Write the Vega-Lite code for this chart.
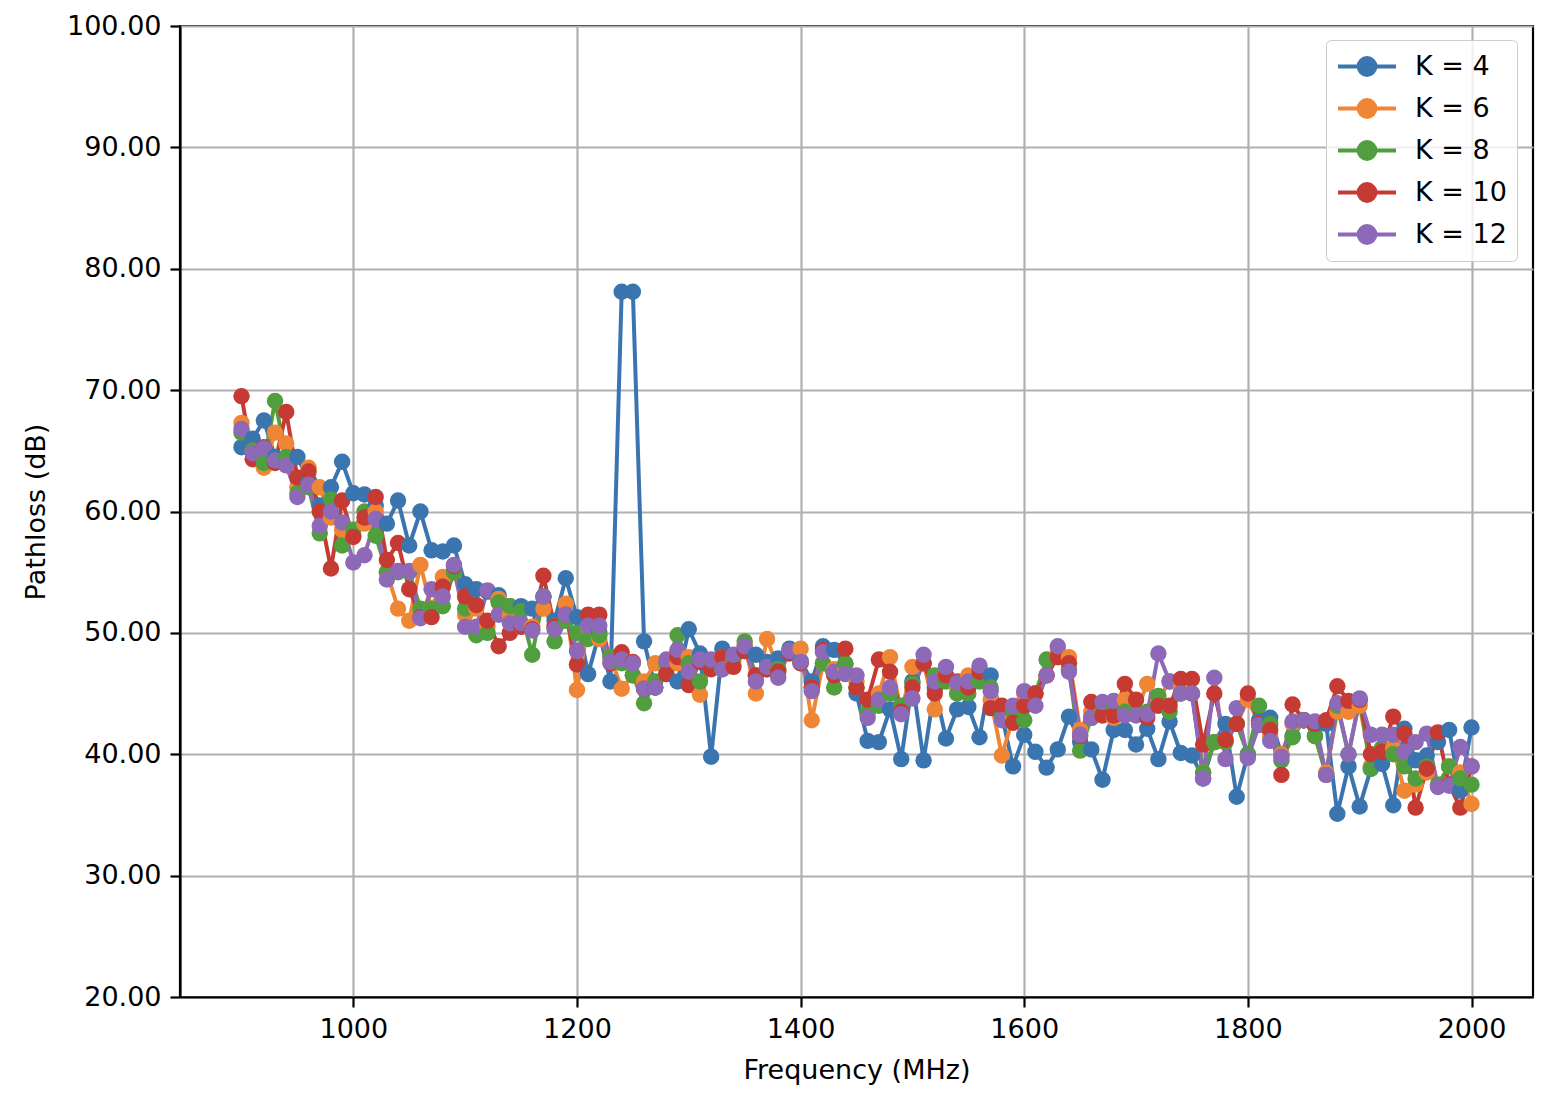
{
  "$schema": "https://vega.github.io/schema/vega-lite/v6.json",
  "width": 1353,
  "height": 971,
  "autosize": {"type": "none"},
  "padding": {"left": 180, "top": 26, "right": 31, "bottom": 109},
  "background": "white",
  "config": {
    "font": "DejaVu Sans",
    "view": {"stroke": "black", "strokeWidth": 2.2},
    "axis": {
      "labelFont": "DejaVu Sans", "titleFont": "DejaVu Sans",
      "labelFontSize": 27, "titleFontSize": 27, "titleFontWeight": "normal",
      "labelColor": "black", "titleColor": "black",
      "domainColor": "black", "domainWidth": 2.2,
      "tickColor": "black", "tickWidth": 2.2, "tickSize": 10,
      "gridColor": "#b0b0b0", "gridWidth": 2.2, "gridOpacity": 1,
      "labelPadding": 9
    }
  },
  "data": {"values": [
    {"f":900,"K = 4":65.3,"K = 6":67.3,"K = 8":66.5,"K = 10":69.5,"K = 12":66.8},
    {"f":910,"K = 4":66.0,"K = 6":65.0,"K = 8":65.0,"K = 10":64.3,"K = 12":64.8},
    {"f":920,"K = 4":67.5,"K = 6":63.6,"K = 8":64.0,"K = 10":65.3,"K = 12":65.2},
    {"f":930,"K = 4":64.5,"K = 6":66.5,"K = 8":69.1,"K = 10":64.0,"K = 12":64.2},
    {"f":940,"K = 4":64.0,"K = 6":65.6,"K = 8":64.5,"K = 10":68.2,"K = 12":63.8},
    {"f":950,"K = 4":64.5,"K = 6":62.0,"K = 8":61.5,"K = 10":62.8,"K = 12":61.2},
    {"f":960,"K = 4":62.5,"K = 6":63.6,"K = 8":62.0,"K = 10":63.3,"K = 12":62.2},
    {"f":970,"K = 4":60.5,"K = 6":62.0,"K = 8":58.2,"K = 10":60.0,"K = 12":58.8},
    {"f":980,"K = 4":62.0,"K = 6":59.5,"K = 8":61.0,"K = 10":55.3,"K = 12":60.0},
    {"f":990,"K = 4":64.1,"K = 6":58.5,"K = 8":57.2,"K = 10":60.9,"K = 12":59.1},
    {"f":1000,"K = 4":61.5,"K = 6":58.0,"K = 8":58.5,"K = 10":57.9,"K = 12":55.8},
    {"f":1010,"K = 4":61.4,"K = 6":59.0,"K = 8":60.0,"K = 10":59.5,"K = 12":56.4},
    {"f":1020,"K = 4":60.5,"K = 6":60.0,"K = 8":58.0,"K = 10":61.2,"K = 12":59.4},
    {"f":1030,"K = 4":59.0,"K = 6":55.0,"K = 8":55.0,"K = 10":56.0,"K = 12":54.4},
    {"f":1040,"K = 4":60.9,"K = 6":52.0,"K = 8":55.0,"K = 10":57.4,"K = 12":55.1},
    {"f":1050,"K = 4":57.2,"K = 6":51.0,"K = 8":55.0,"K = 10":53.6,"K = 12":55.1},
    {"f":1060,"K = 4":60.0,"K = 6":55.6,"K = 8":52.0,"K = 10":51.3,"K = 12":51.2},
    {"f":1070,"K = 4":56.8,"K = 6":52.0,"K = 8":52.0,"K = 10":51.3,"K = 12":53.6},
    {"f":1080,"K = 4":56.7,"K = 6":54.6,"K = 8":52.2,"K = 10":53.8,"K = 12":53.0},
    {"f":1090,"K = 4":57.2,"K = 6":55.0,"K = 8":55.0,"K = 10":55.5,"K = 12":55.6},
    {"f":1100,"K = 4":54.0,"K = 6":51.5,"K = 8":52.0,"K = 10":53.0,"K = 12":50.5},
    {"f":1110,"K = 4":53.6,"K = 6":52.0,"K = 8":49.8,"K = 10":52.3,"K = 12":50.5},
    {"f":1120,"K = 4":53.4,"K = 6":50.5,"K = 8":50.0,"K = 10":51.0,"K = 12":53.5},
    {"f":1130,"K = 4":53.1,"K = 6":52.8,"K = 8":52.5,"K = 10":48.9,"K = 12":51.5},
    {"f":1140,"K = 4":52.2,"K = 6":51.5,"K = 8":52.2,"K = 10":50.0,"K = 12":50.8},
    {"f":1150,"K = 4":52.2,"K = 6":50.5,"K = 8":51.8,"K = 10":50.5,"K = 12":50.8},
    {"f":1160,"K = 4":52.0,"K = 6":50.5,"K = 8":48.2,"K = 10":50.3,"K = 12":50.2},
    {"f":1170,"K = 4":53.0,"K = 6":52.0,"K = 8":53.0,"K = 10":54.7,"K = 12":53.0},
    {"f":1180,"K = 4":51.0,"K = 6":50.5,"K = 8":49.3,"K = 10":50.5,"K = 12":50.3},
    {"f":1190,"K = 4":54.5,"K = 6":52.4,"K = 8":51.0,"K = 10":51.5,"K = 12":51.5},
    {"f":1200,"K = 4":51.3,"K = 6":45.3,"K = 8":50.0,"K = 10":47.4,"K = 12":48.5},
    {"f":1210,"K = 4":46.6,"K = 6":50.5,"K = 8":49.5,"K = 10":51.5,"K = 12":50.6},
    {"f":1220,"K = 4":50.0,"K = 6":49.5,"K = 8":49.8,"K = 10":51.5,"K = 12":50.6},
    {"f":1230,"K = 4":46.0,"K = 6":48.0,"K = 8":48.0,"K = 10":47.5,"K = 12":47.6},
    {"f":1240,"K = 4":78.1,"K = 6":45.4,"K = 8":47.5,"K = 10":48.4,"K = 12":47.8},
    {"f":1250,"K = 4":78.1,"K = 6":46.5,"K = 8":46.5,"K = 10":47.6,"K = 12":47.5},
    {"f":1260,"K = 4":49.3,"K = 6":46.0,"K = 8":44.2,"K = 10":45.4,"K = 12":45.4},
    {"f":1270,"K = 4":45.5,"K = 6":47.5,"K = 8":46.0,"K = 10":45.5,"K = 12":45.5},
    {"f":1280,"K = 4":47.0,"K = 6":47.0,"K = 8":47.5,"K = 10":46.6,"K = 12":47.8},
    {"f":1290,"K = 4":46.0,"K = 6":47.5,"K = 8":49.8,"K = 10":48.0,"K = 12":48.6},
    {"f":1300,"K = 4":50.3,"K = 6":48.0,"K = 8":47.5,"K = 10":45.7,"K = 12":46.8},
    {"f":1310,"K = 4":48.3,"K = 6":44.9,"K = 8":46.0,"K = 10":47.6,"K = 12":47.8},
    {"f":1320,"K = 4":39.8,"K = 6":47.5,"K = 8":47.5,"K = 10":47.0,"K = 12":47.8},
    {"f":1330,"K = 4":48.7,"K = 6":48.0,"K = 8":47.0,"K = 10":48.0,"K = 12":47.0},
    {"f":1340,"K = 4":48.0,"K = 6":47.8,"K = 8":48.0,"K = 10":47.2,"K = 12":48.2},
    {"f":1350,"K = 4":48.5,"K = 6":49.0,"K = 8":49.3,"K = 10":48.5,"K = 12":48.9},
    {"f":1360,"K = 4":48.2,"K = 6":45.0,"K = 8":46.5,"K = 10":46.5,"K = 12":46.0},
    {"f":1370,"K = 4":47.6,"K = 6":49.5,"K = 8":47.0,"K = 10":47.0,"K = 12":47.2},
    {"f":1380,"K = 4":47.9,"K = 6":47.0,"K = 8":47.0,"K = 10":46.8,"K = 12":46.3},
    {"f":1390,"K = 4":48.7,"K = 6":48.5,"K = 8":48.5,"K = 10":48.3,"K = 12":48.5},
    {"f":1400,"K = 4":47.7,"K = 6":48.7,"K = 8":47.5,"K = 10":47.5,"K = 12":47.6},
    {"f":1410,"K = 4":46.0,"K = 6":42.8,"K = 8":45.5,"K = 10":45.5,"K = 12":45.2},
    {"f":1420,"K = 4":48.9,"K = 6":47.5,"K = 8":47.5,"K = 10":48.6,"K = 12":48.4},
    {"f":1430,"K = 4":48.6,"K = 6":47.0,"K = 8":45.5,"K = 10":46.5,"K = 12":46.8},
    {"f":1440,"K = 4":47.4,"K = 6":47.0,"K = 8":47.5,"K = 10":48.7,"K = 12":46.6},
    {"f":1450,"K = 4":45.0,"K = 6":46.0,"K = 8":45.5,"K = 10":45.5,"K = 12":46.5},
    {"f":1460,"K = 4":41.1,"K = 6":43.5,"K = 8":43.5,"K = 10":44.5,"K = 12":43.0},
    {"f":1470,"K = 4":41.0,"K = 6":45.0,"K = 8":44.0,"K = 10":47.8,"K = 12":44.5},
    {"f":1480,"K = 4":43.7,"K = 6":48.0,"K = 8":45.0,"K = 10":46.8,"K = 12":45.5},
    {"f":1490,"K = 4":39.6,"K = 6":43.5,"K = 8":44.0,"K = 10":43.5,"K = 12":43.3},
    {"f":1500,"K = 4":46.0,"K = 6":47.2,"K = 8":45.8,"K = 10":45.5,"K = 12":44.6},
    {"f":1510,"K = 4":39.5,"K = 6":47.5,"K = 8":47.5,"K = 10":47.5,"K = 12":48.2},
    {"f":1520,"K = 4":45.5,"K = 6":43.7,"K = 8":46.5,"K = 10":45.0,"K = 12":46.0},
    {"f":1530,"K = 4":41.3,"K = 6":46.5,"K = 8":46.0,"K = 10":46.5,"K = 12":47.2},
    {"f":1540,"K = 4":43.7,"K = 6":45.5,"K = 8":45.0,"K = 10":46.0,"K = 12":45.9},
    {"f":1550,"K = 4":43.9,"K = 6":46.5,"K = 8":45.0,"K = 10":45.5,"K = 12":46.0},
    {"f":1560,"K = 4":41.4,"K = 6":47.0,"K = 8":46.0,"K = 10":46.8,"K = 12":47.3},
    {"f":1570,"K = 4":46.5,"K = 6":44.5,"K = 8":45.5,"K = 10":43.8,"K = 12":45.2},
    {"f":1580,"K = 4":43.2,"K = 6":39.9,"K = 8":43.0,"K = 10":44.0,"K = 12":42.8},
    {"f":1590,"K = 4":39.0,"K = 6":43.0,"K = 8":43.5,"K = 10":42.6,"K = 12":44.0},
    {"f":1600,"K = 4":41.6,"K = 6":45.0,"K = 8":42.8,"K = 10":44.0,"K = 12":45.2},
    {"f":1610,"K = 4":40.2,"K = 6":45.0,"K = 8":45.0,"K = 10":45.0,"K = 12":44.0},
    {"f":1620,"K = 4":38.9,"K = 6":46.5,"K = 8":47.8,"K = 10":46.5,"K = 12":46.5},
    {"f":1630,"K = 4":40.4,"K = 6":48.5,"K = 8":48.0,"K = 10":48.0,"K = 12":48.9},
    {"f":1640,"K = 4":43.1,"K = 6":48.0,"K = 8":47.0,"K = 10":47.5,"K = 12":46.8},
    {"f":1650,"K = 4":41.0,"K = 6":42.0,"K = 8":40.3,"K = 10":41.5,"K = 12":41.6},
    {"f":1660,"K = 4":40.4,"K = 6":43.5,"K = 8":43.0,"K = 10":44.3,"K = 12":43.0},
    {"f":1670,"K = 4":37.9,"K = 6":43.5,"K = 8":43.5,"K = 10":43.2,"K = 12":44.3},
    {"f":1680,"K = 4":42.0,"K = 6":43.0,"K = 8":44.0,"K = 10":43.2,"K = 12":44.4},
    {"f":1690,"K = 4":42.0,"K = 6":44.5,"K = 8":43.5,"K = 10":45.8,"K = 12":43.2},
    {"f":1700,"K = 4":40.8,"K = 6":43.5,"K = 8":43.5,"K = 10":44.5,"K = 12":43.2},
    {"f":1710,"K = 4":42.1,"K = 6":45.8,"K = 8":43.5,"K = 10":43.0,"K = 12":43.3},
    {"f":1720,"K = 4":39.6,"K = 6":44.5,"K = 8":44.8,"K = 10":44.0,"K = 12":48.3},
    {"f":1730,"K = 4":42.7,"K = 6":46.0,"K = 8":43.5,"K = 10":44.0,"K = 12":46.0},
    {"f":1740,"K = 4":40.1,"K = 6":45.5,"K = 8":45.0,"K = 10":46.2,"K = 12":45.0},
    {"f":1750,"K = 4":39.9,"K = 6":45.0,"K = 8":45.0,"K = 10":46.2,"K = 12":45.0},
    {"f":1760,"K = 4":38.0,"K = 6":38.5,"K = 8":38.5,"K = 10":40.8,"K = 12":38.0},
    {"f":1770,"K = 4":41.0,"K = 6":41.0,"K = 8":41.0,"K = 10":45.0,"K = 12":46.3},
    {"f":1780,"K = 4":42.5,"K = 6":41.0,"K = 8":41.0,"K = 10":41.2,"K = 12":39.6},
    {"f":1790,"K = 4":36.5,"K = 6":42.5,"K = 8":42.5,"K = 10":42.5,"K = 12":43.8},
    {"f":1800,"K = 4":40.0,"K = 6":44.5,"K = 8":40.0,"K = 10":45.0,"K = 12":39.7},
    {"f":1810,"K = 4":42.8,"K = 6":42.5,"K = 8":44.0,"K = 10":42.5,"K = 12":42.4},
    {"f":1820,"K = 4":43.0,"K = 6":41.5,"K = 8":42.5,"K = 10":42.0,"K = 12":41.1},
    {"f":1830,"K = 4":40.0,"K = 6":40.0,"K = 8":39.5,"K = 10":38.3,"K = 12":39.8},
    {"f":1840,"K = 4":41.5,"K = 6":42.5,"K = 8":41.4,"K = 10":44.1,"K = 12":42.7},
    {"f":1850,"K = 4":42.8,"K = 6":42.8,"K = 8":42.8,"K = 10":42.8,"K = 12":42.8},
    {"f":1860,"K = 4":41.5,"K = 6":41.5,"K = 8":41.5,"K = 10":42.5,"K = 12":42.7},
    {"f":1870,"K = 4":42.5,"K = 6":38.5,"K = 8":38.3,"K = 10":42.8,"K = 12":38.3},
    {"f":1880,"K = 4":35.1,"K = 6":43.5,"K = 8":44.0,"K = 10":45.6,"K = 12":44.2},
    {"f":1890,"K = 4":39.0,"K = 6":43.5,"K = 8":40.0,"K = 10":44.4,"K = 12":40.0},
    {"f":1900,"K = 4":35.7,"K = 6":44.0,"K = 8":44.5,"K = 10":44.5,"K = 12":44.6},
    {"f":1910,"K = 4":38.8,"K = 6":39.0,"K = 8":38.8,"K = 10":40.0,"K = 12":41.6},
    {"f":1920,"K = 4":39.2,"K = 6":40.5,"K = 8":40.5,"K = 10":40.2,"K = 12":41.6},
    {"f":1930,"K = 4":35.8,"K = 6":40.5,"K = 8":40.0,"K = 10":43.1,"K = 12":41.6},
    {"f":1940,"K = 4":42.1,"K = 6":37.0,"K = 8":39.0,"K = 10":41.7,"K = 12":40.2},
    {"f":1950,"K = 4":39.5,"K = 6":37.5,"K = 8":38.0,"K = 10":35.6,"K = 12":41.0},
    {"f":1960,"K = 4":39.9,"K = 6":38.5,"K = 8":39.0,"K = 10":38.8,"K = 12":41.7},
    {"f":1970,"K = 4":41.0,"K = 6":37.5,"K = 8":37.5,"K = 10":41.8,"K = 12":37.3},
    {"f":1980,"K = 4":42.0,"K = 6":39.0,"K = 8":39.0,"K = 10":37.5,"K = 12":37.4},
    {"f":1990,"K = 4":37.0,"K = 6":38.5,"K = 8":38.0,"K = 10":35.6,"K = 12":40.6},
    {"f":2000,"K = 4":42.2,"K = 6":35.9,"K = 8":37.5,"K = 10":39.0,"K = 12":39.0}
  ]},
  "transform": [
    {"fold": ["K = 4", "K = 6", "K = 8", "K = 10", "K = 12"], "as": ["series", "pl"]}
  ],
  "mark": {"type": "line", "strokeWidth": 4, "point": {"filled": true, "size": 270, "opacity": 1}, "clip": true},
  "encoding": {
    "x": {
      "field": "f", "type": "quantitative",
      "scale": {"domain": [845, 2055], "nice": false, "zero": false},
      "axis": {"title": "Frequency (MHz)", "values": [1000, 1200, 1400, 1600, 1800, 2000], "format": "d", "titlePadding": 15}
    },
    "y": {
      "field": "pl", "type": "quantitative",
      "scale": {"domain": [20, 100], "nice": false, "zero": false},
      "axis": {"title": "Pathloss (dB)", "values": [20, 30, 40, 50, 60, 70, 80, 90, 100], "format": ".2f", "titlePadding": 16}
    },
    "color": {
      "field": "series", "type": "nominal",
      "scale": {"domain": ["K = 4", "K = 6", "K = 8", "K = 10", "K = 12"], "range": ["#3b75af", "#ef8636", "#519e3e", "#c53a32", "#8d69b8"]},
      "legend": {
        "title": null, "orient": "none", "legendX": 1146, "legendY": 14,
        "symbolType": "M-1,0L3,0M0.42,0A0.58,0.58 0 1,1 1.58,0A0.58,0.58 0 1,1 0.42,0",
        "symbolSize": 841, "symbolStrokeWidth": 4,
        "labelOffset": 46, "rowPadding": 9, "padding": 10,
        "labelFont": "DejaVu Sans", "labelFontSize": 27, "labelColor": "black",
        "strokeColor": "#cccccc", "fillColor": "rgba(255,255,255,0.8)", "cornerRadius": 5,
        "encode": {"symbols": {"update": {
          "fill": {"scale": "color", "field": "value"},
          "stroke": {"scale": "color", "field": "value"},
          "strokeWidth": {"value": 4}, "opacity": {"value": 1}
        }}}
      }
    },
    "order": {"field": "f", "type": "quantitative"}
  }
}
